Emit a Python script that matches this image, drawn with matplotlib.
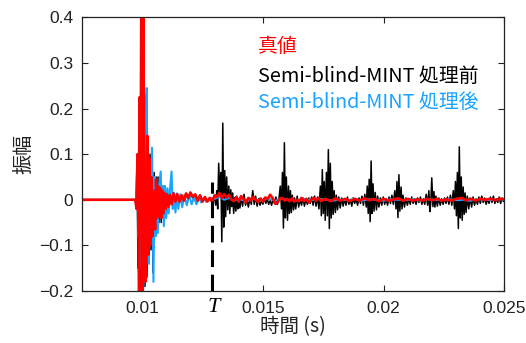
import numpy as np
import matplotlib.pyplot as plt
from matplotlib.ticker import FixedLocator, FuncFormatter
from matplotlib.transforms import blended_transform_factory

# ---------- Data (time in ms, amplitude) ----------
# Semi-blind-MINT before processing (black)
black = [
    (7.5, 0), (9.70, 0), (9.75, -0.01), (9.79, 0.09), (9.83, -0.15), (9.87, 0.20),
    (9.91, -0.24), (9.96, 0.10), (10.00, 0.42), (10.04, -0.24), (10.08, 0.20),
    (10.12, -0.19), (10.16, 0.23), (10.20, -0.17), (10.24, 0.12), (10.29, -0.14),
    (10.33, 0.10), (10.37, -0.11), (10.41, 0.08), (10.45, -0.16), (10.50, 0.06),
    (10.54, -0.08), (10.58, 0.05), (10.62, -0.07), (10.66, 0.05), (10.70, -0.05),
    (10.75, 0.04), (10.79, -0.05), (10.83, 0.03), (10.87, -0.04), (10.92, 0.03),
    (10.97, -0.03), (11.03, 0.02), (11.09, -0.02), (11.15, 0.015), (11.22, -0.01),
    (11.30, 0.012), (11.38, -0.004), (11.46, 0.01), (11.55, -0.004), (11.64, 0.008),
    (11.73, -0.002), (11.82, 0.01), (11.91, 0.002), (12.00, 0.012), (12.10, 0.004),
    (12.20, 0.008), (12.30, -0.002), (12.40, 0.006), (12.50, -0.004), (12.60, 0.004),
    (12.70, -0.002), (12.80, 0.002), (12.90, -0.006), (13.00, 0.004), (13.05, -0.012),
    (13.09, 0.02), (13.13, -0.02), (13.17, 0.08), (13.22, 0.006), (13.26, 0.06),
    (13.30, -0.092), (13.34, 0.168), (13.38, -0.06), (13.42, 0.064), (13.46, -0.037),
    (13.50, 0.05), (13.545, -0.022), (13.59, 0.03), (13.63, -0.03), (13.67, 0.022),
    (13.71, -0.015), (13.75, 0.015), (13.79, -0.03), (13.83, 0.005), (13.88, -0.025),
    (13.92, 0.008), (13.96, -0.02), (14.00, -0.004), (14.05, -0.018), (14.10, 0.006),
    (14.16, -0.014), (14.22, 0.012), (14.28, -0.012), (14.34, 0.0), (14.40, -0.016),
    (14.46, 0.004), (14.52, -0.01), (14.58, 0.02), (14.64, -0.01), (14.70, 0.008),
    (14.76, -0.014), (14.82, 0.002), (14.88, -0.012), (14.94, -0.002), (15.00, -0.01),
    (15.06, 0.004), (15.12, -0.008), (15.18, 0.002), (15.24, -0.01), (15.30, -0.002),
    (15.36, -0.012), (15.42, 0.002), (15.48, -0.008), (15.54, 0.006), (15.60, -0.01),
    (15.66, 0.0), (15.72, 0.03), (15.77, -0.02), (15.81, 0.06), (15.85, -0.062),
    (15.89, 0.125), (15.93, -0.04), (15.97, 0.05), (16.02, -0.045), (16.06, 0.03),
    (16.10, -0.03), (16.14, 0.02), (16.18, -0.028), (16.22, 0.01), (16.27, -0.022),
    (16.31, 0.004), (16.36, -0.02), (16.42, 0.008), (16.48, -0.016), (16.54, 0.0),
    (16.60, -0.012), (16.66, 0.004), (16.72, -0.014), (16.78, 0.002), (16.84, -0.01),
    (16.90, 0.004), (16.96, -0.008), (17.02, 0.006), (17.08, -0.012), (17.14, 0.008),
    (17.20, -0.014), (17.26, 0.006), (17.32, -0.02), (17.38, 0.03), (17.42, -0.035),
    (17.46, 0.066), (17.50, -0.03), (17.54, 0.04), (17.58, -0.045), (17.63, 0.06),
    (17.67, -0.035), (17.71, 0.11), (17.75, -0.063), (17.79, 0.08), (17.83, -0.04),
    (17.87, 0.04), (17.91, -0.032), (17.95, 0.02), (18.00, -0.028), (18.04, 0.01),
    (18.09, -0.022), (18.14, 0.006), (18.20, -0.018), (18.26, 0.004), (18.32, -0.014),
    (18.38, 0.002), (18.44, -0.012), (18.50, 0.006), (18.56, -0.01), (18.62, 0.0),
    (18.68, -0.014), (18.74, 0.004), (18.80, -0.008), (18.86, 0.002), (18.92, -0.012),
    (18.98, 0.004), (19.04, -0.008), (19.10, 0.008), (19.16, -0.012), (19.22, 0.012),
    (19.28, -0.016), (19.32, 0.03), (19.36, -0.03), (19.40, 0.045), (19.44, -0.048),
    (19.48, 0.085), (19.52, -0.03), (19.56, 0.035), (19.60, -0.025), (19.65, 0.016),
    (19.70, -0.022), (19.75, 0.008), (19.80, -0.016), (19.86, 0.004), (19.92, -0.012),
    (19.98, 0.006), (20.04, -0.01), (20.10, 0.002), (20.16, -0.012), (20.22, 0.006),
    (20.28, -0.008), (20.34, 0.01), (20.40, -0.01), (20.46, 0.02), (20.51, -0.02),
    (20.55, 0.04), (20.59, -0.039), (20.63, 0.055), (20.67, -0.025), (20.72, 0.028),
    (20.76, -0.02), (20.80, 0.01), (20.86, -0.016), (20.92, 0.004), (20.98, -0.012),
    (21.04, 0.002), (21.10, -0.01), (21.16, 0.006), (21.22, -0.008), (21.28, 0.002),
    (21.34, -0.01), (21.40, 0.004), (21.46, -0.006), (21.52, 0.006), (21.58, -0.01),
    (21.64, 0.002), (21.70, -0.01), (21.76, 0.012), (21.82, -0.012), (21.87, 0.02),
    (21.91, -0.026), (21.95, -0.006), (21.99, 0.048), (22.04, -0.015), (22.08, 0.018),
    (22.12, -0.016), (22.16, 0.008), (22.22, -0.014), (22.28, 0.004), (22.34, -0.012),
    (22.40, 0.002), (22.46, -0.01), (22.52, 0.004), (22.58, -0.008), (22.64, 0.006),
    (22.70, -0.01), (22.76, 0.01), (22.82, -0.012), (22.88, 0.02), (22.93, -0.02),
    (22.97, 0.04), (23.01, -0.035), (23.05, 0.06), (23.09, -0.063), (23.13, 0.116),
    (23.17, -0.04), (23.21, 0.05), (23.25, -0.045), (23.29, 0.028), (23.33, -0.032),
    (23.37, 0.015), (23.41, -0.028), (23.46, 0.008), (23.52, -0.02), (23.58, 0.004),
    (23.64, -0.016), (23.70, 0.006), (23.76, -0.012), (23.82, 0.002), (23.88, -0.01),
    (23.94, 0.006), (24.00, -0.008), (24.06, 0.008), (24.12, -0.006), (24.18, 0.004),
    (24.24, -0.01), (24.30, 0.002), (24.36, -0.008), (24.42, 0.006), (24.48, -0.006),
    (24.54, 0.008), (24.60, -0.008), (24.66, 0.002), (24.72, -0.006), (24.78, 0.006),
    (24.84, -0.008), (24.90, 0.004), (24.96, -0.004), (25.00, 0.002),
]

# Semi-blind-MINT after processing (blue)
blue = [
    (7.5, 0), (9.72, 0), (9.76, -0.01), (9.80, 0.06), (9.84, -0.08), (9.88, 0.15),
    (9.92, -0.15), (9.96, 0.20), (10.00, 0.38), (10.04, -0.20), (10.07, 0.05),
    (10.11, -0.18), (10.15, 0.12), (10.19, 0.245), (10.23, -0.05), (10.28, -0.14),
    (10.32, 0.08), (10.36, -0.06), (10.41, 0.114), (10.47, -0.18), (10.52, 0.05),
    (10.56, -0.08), (10.60, 0.03), (10.65, -0.073), (10.70, 0.03), (10.77, 0.062),
    (10.82, -0.03), (10.86, 0.03), (10.90, -0.058), (10.95, 0.03), (11.00, -0.04),
    (11.05, 0.025), (11.10, -0.03), (11.15, 0.02), (11.22, 0.062), (11.27, -0.02),
    (11.32, 0.015), (11.38, -0.028), (11.44, 0.014), (11.50, -0.02), (11.58, 0.012),
    (11.66, -0.016), (11.75, 0.01), (11.85, -0.012), (11.95, 0.01), (12.05, -0.01),
    (12.15, 0.006), (12.25, -0.01), (12.35, 0.005), (12.45, -0.006), (12.55, 0.004),
    (12.65, -0.004), (12.80, 0.004), (13.00, 0.002), (13.20, 0.006), (13.40, 0.0),
    (13.60, 0.004), (13.80, -0.002), (14.00, 0.002), (14.30, -0.003), (14.60, 0.002),
    (14.90, -0.002), (15.20, 0.003), (15.50, -0.002), (15.80, 0.002), (16.10, 0.0),
    (16.40, -0.002), (16.70, 0.002), (17.00, -0.001), (17.30, 0.002), (17.60, 0.0),
    (17.90, -0.002), (18.20, 0.001), (18.50, -0.001), (18.80, 0.002), (19.10, -0.002),
    (19.40, 0.001), (19.70, 0.0), (20.00, -0.002), (20.30, 0.001), (20.60, 0.0),
    (20.90, -0.001), (21.20, 0.001), (21.50, -0.002), (21.80, 0.001), (22.10, 0.0),
    (22.40, -0.001), (22.70, 0.001), (23.00, -0.001), (23.30, 0.0), (23.60, -0.002),
    (23.90, 0.001), (24.20, 0.0), (24.50, -0.001), (24.80, 0.001), (25.00, 0.0),
]

# True value (red)
red = [
    (7.5, 0), (9.72, 0), (9.77, -0.02), (9.81, 0.10), (9.85, -0.06), (9.88, -0.25),
    (9.90, 0.225), (9.93, -0.05), (9.97, 0.45), (10.01, -0.25), (10.05, 0.42),
    (10.09, 0.0), (10.13, -0.18), (10.18, 0.05), (10.22, 0.14), (10.26, -0.12),
    (10.30, 0.09), (10.34, -0.10), (10.38, 0.05), (10.42, -0.08), (10.46, 0.02),
    (10.50, -0.04), (10.54, -0.065), (10.58, 0.044), (10.62, -0.04), (10.66, 0.03),
    (10.70, -0.035), (10.75, 0.026), (10.79, -0.04), (10.83, 0.02), (10.87, -0.03),
    (10.92, 0.015), (10.97, -0.02), (11.03, 0.012), (11.09, -0.015), (11.15, 0.01),
    (11.22, -0.01), (11.30, 0.014), (11.38, -0.004), (11.46, 0.012), (11.55, -0.004),
    (11.64, 0.01), (11.73, -0.002), (11.82, 0.014), (11.91, 0.004), (12.00, 0.016),
    (12.10, 0.006), (12.20, 0.012), (12.30, -0.002), (12.40, 0.01), (12.50, -0.004),
    (12.60, 0.006), (12.70, -0.004), (12.80, 0.004), (12.90, -0.004), (13.00, 0.01),
    (13.10, 0.006), (13.20, 0.015), (13.30, 0.004), (13.40, 0.012), (13.50, 0.005),
    (13.60, 0.011), (13.70, 0.0), (13.80, -0.003), (13.90, 0.006), (14.00, -0.004),
    (14.10, 0.008), (14.20, 0.002), (14.30, -0.006), (14.40, 0.004), (14.50, -0.002),
    (14.60, 0.006), (14.70, 0.0), (14.80, -0.005), (14.90, 0.003), (15.00, -0.004),
    (15.10, 0.005), (15.20, 0.002), (15.30, 0.011), (15.40, 0.004), (15.52, -0.009),
    (15.60, -0.006), (15.70, 0.002), (15.80, 0.004), (15.90, -0.002), (16.00, 0.002),
    (16.10, -0.003), (16.20, 0.003), (16.30, -0.004), (16.40, 0.0), (16.50, -0.003),
    (16.60, 0.004), (16.70, -0.003), (16.80, 0.002), (16.90, -0.006), (17.00, 0.0),
    (17.10, 0.004), (17.20, -0.002), (17.30, 0.004), (17.40, -0.003), (17.60, 0.002),
    (17.80, -0.003), (18.00, 0.003), (18.20, -0.002), (18.40, 0.002), (18.60, -0.003),
    (18.80, 0.002), (19.00, -0.002), (19.20, 0.003), (19.40, -0.001), (19.60, 0.002),
    (19.80, -0.003), (20.00, 0.002), (20.20, -0.002), (20.40, 0.001), (20.60, 0.003),
    (20.80, -0.002), (21.00, 0.002), (21.20, -0.002), (21.40, 0.001), (21.60, -0.002),
    (21.80, 0.002), (22.00, -0.001), (22.20, 0.002), (22.40, -0.002), (22.60, 0.001),
    (22.80, -0.002), (23.00, 0.002), (23.25, 0.004), (23.40, -0.001), (23.60, 0.002),
    (23.80, -0.002), (24.00, 0.002), (24.20, 0.0), (24.40, 0.002), (24.60, -0.001),
    (24.80, 0.002), (25.00, 0.001),
]

T_ms = 12.91  # marker time T
T_top = 0.04

xticks = [0.01, 0.015, 0.02, 0.025]
yticks = [-0.2, -0.1, 0, 0.1, 0.2, 0.3, 0.4]

labels = ['真値', 'Semi-blind-MINT 処理前', 'Semi-blind-MINT 処理後']
colors = ['#ff0000', '#000000', '#1aa3ff']

jp = ['Noto Sans CJK JP', 'DejaVu Sans']


def to_xy(series):
    t, v = zip(*series)
    return np.array(t) * 1e-3, np.array(v)  # ms -> s


# ---------- Plot ----------
fig = plt.figure(figsize=(5.26, 3.43), dpi=100)
ax = fig.add_axes([0.1553, 0.1516, 0.8038, 0.798])

ax.plot(*to_xy(black), color=colors[1], lw=1.1)
ax.plot(*to_xy(blue), color=colors[2], lw=1.5)
ax.plot(*to_xy(red), color=colors[0], lw=1.9)

ax.plot([T_ms * 1e-3] * 2, [-0.2, T_top], color='k', lw=2.2,
        linestyle=(0, (5.5, 2.5)))

ax.set_xlim(0.0075, 0.025)
ax.set_ylim(-0.2, 0.4)
ax.xaxis.set_major_locator(FixedLocator(xticks))
ax.yaxis.set_major_locator(FixedLocator(yticks))
fmt = FuncFormatter(lambda v, p: ('%g' % round(v, 4)).replace('-', '\u2212'))
ax.xaxis.set_major_formatter(fmt)
ax.yaxis.set_major_formatter(fmt)
ax.tick_params(direction='in', length=4, width=0.8, top=True, right=True,
               labelsize=12.5, colors='#222222')
ax.tick_params(axis='x', pad=7)
ax.tick_params(axis='y', pad=6)
for lab in ax.get_xticklabels() + ax.get_yticklabels():
    lab.set_family('Liberation Sans')
for sp in ax.spines.values():
    sp.set_linewidth(0.9)
    sp.set_color('#222222')

ax.set_xlabel('時間 (s)', family=jp, fontsize=14, color='#222222', labelpad=0)
ax.set_ylabel('振幅', family=jp, fontsize=14.5, color='#222222', labelpad=3)

trans = blended_transform_factory(ax.transData, ax.transAxes)
ax.text(T_ms * 1e-3 + 0.00005, -0.025, 'T', transform=trans,
        family='Liberation Serif', style='italic', fontsize=16,
        ha='center', va='top')

for lab, c, y in zip(labels, colors, [0.895, 0.785, 0.69]):
    ax.text(0.417, y, lab, transform=ax.transAxes, color=c, family=jp,
            fontsize=14.3, ha='left', va='center')

fig.savefig('out.png', dpi=100)
